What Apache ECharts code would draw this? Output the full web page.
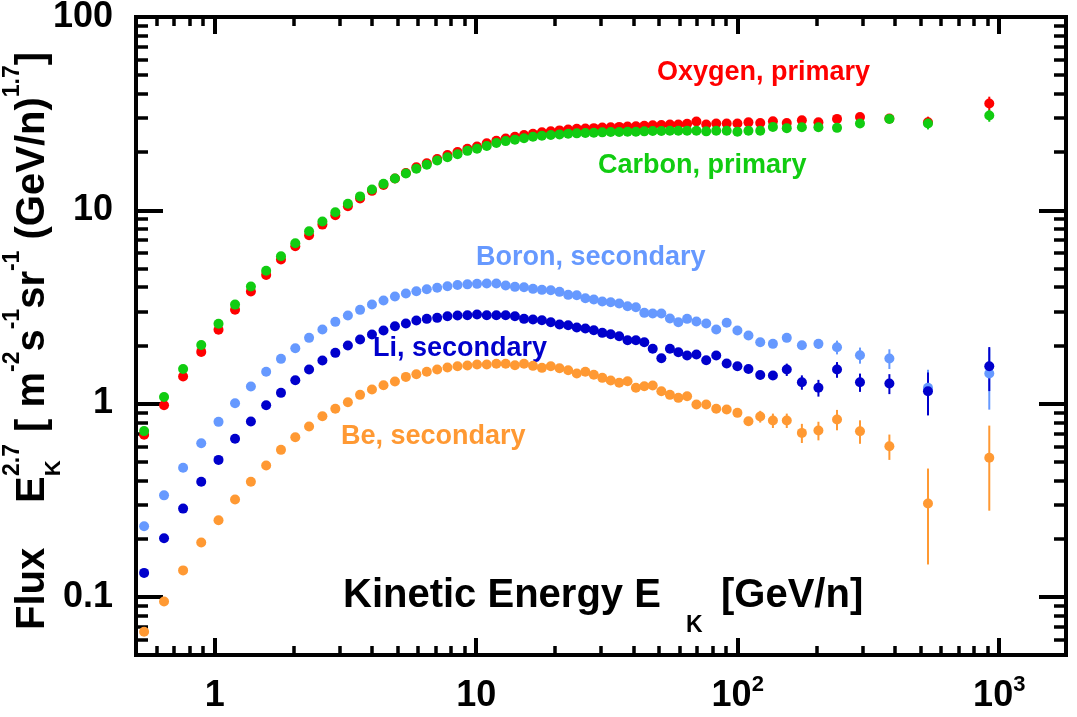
<!DOCTYPE html>
<html><head><meta charset="utf-8">
<script src="https://cdn.jsdelivr.net/npm/echarts@6/dist/echarts.min.js"></script>
<style>html,body{margin:0;padding:0;background:#fff}#c{width:1077px;height:717px}</style>
</head><body><div id="c"></div>
<script>
// Kinetic energy per nucleon (GeV/n), bin centres
const EK = [0.537,0.640,0.757,0.888,1.034,1.196,1.375,1.573,1.792,2.033,
  2.295,2.581,2.892,3.230,3.596,3.993,4.420,4.888,5.383,5.902,
  6.471,7.091,7.762,8.482,9.253,10.07,10.97,11.94,12.96,14.06,
  15.23,16.48,17.83,19.28,20.82,22.47,24.24,26.14,28.16,30.34,
  32.68,35.21,37.90,40.80,43.92,47.30,51.04,55.04,59.28,64.03,
  69.51,75.76,82.74,90.73,99.71,109.9,121.9,136.3,154.0,175.9,
  203.5,239.7,293.4,380.1,533.9,916];
const OXYGEN = [0.69,0.98,1.38,1.85,2.41,3.06,3.80,4.63,5.56,6.51,
  7.42,8.43,9.42,10.5,11.5,12.6,13.5,14.6,15.6,16.7,
  17.5,18.4,19.3,20.0,20.8,21.4,22.2,22.9,23.5,24.0,
  24.5,24.9,25.3,25.6,25.9,26.2,26.4,26.5,26.6,26.8,
  26.9,27.0,27.1,27.2,27.4,27.5,27.6,27.8,27.8,28.0,
  28.8,27.8,28.1,28.1,28.1,28.5,28.3,28.9,28.3,29.2,
  28.5,29.7,30.4,29.8,28.5,35.7];
const CARBON = [0.72,1.08,1.51,2.01,2.59,3.25,4.03,4.86,5.78,6.75,
  7.79,8.74,9.77,10.8,11.8,12.8,13.7,14.6,15.5,16.4,
  17.2,18.1,18.8,19.5,20.3,20.8,21.5,22.3,22.8,23.2,
  23.6,24.0,24.3,24.5,24.7,24.9,25.0,25.1,25.2,25.3,
  25.4,25.4,25.5,25.5,25.6,25.7,25.7,25.8,25.8,25.8,
  25.8,25.6,25.8,25.8,25.5,25.8,25.8,27.0,26.6,26.9,
  26.9,26.7,28.1,29.7,28.1,30.9];
const BORON = [0.232,0.335,0.465,0.623,0.804,1.004,1.224,1.459,1.703,1.932,
  2.187,2.414,2.646,2.853,3.053,3.252,3.411,3.577,3.708,3.811,
  3.903,3.969,4.045,4.102,4.137,4.161,4.176,4.176,4.078,4.015,
  3.996,3.921,3.874,3.856,3.784,3.651,3.634,3.506,3.451,3.370,
  3.342,3.291,3.187,3.149,2.946,2.922,2.922,2.753,2.634,2.743,
  2.656,2.594,2.414,2.616,2.386,2.248,2.076,2.036,2.187,2.002,
  2.036,1.956,1.778,1.709,1.206,1.430];
const LITHIUM = [0.133,0.201,0.286,0.394,0.511,0.657,0.807,0.980,1.136,1.320,
  1.499,1.669,1.829,1.995,2.144,2.275,2.386,2.511,2.594,2.688,
  2.743,2.776,2.829,2.853,2.863,2.887,2.863,2.863,2.863,2.829,
  2.743,2.720,2.697,2.634,2.563,2.542,2.473,2.443,2.394,2.321,
  2.283,2.229,2.126,2.126,2.076,1.919,1.716,1.919,1.842,1.771,
  1.793,1.675,1.771,1.610,1.560,1.508,1.404,1.396,1.499,1.289,
  1.206,1.499,1.289,1.269,1.158,1.560];
const BERYLLIUM = [0.0659,0.0946,0.137,0.191,0.249,0.319,0.394,0.478,0.576,0.669,
  0.760,0.860,0.939,1.016,1.109,1.181,1.243,1.300,1.374,1.418,
  1.459,1.499,1.536,1.560,1.573,1.592,1.592,1.605,1.605,1.578,
  1.605,1.567,1.530,1.560,1.522,1.487,1.430,1.459,1.408,1.358,
  1.315,1.280,1.304,1.206,1.229,1.239,1.158,1.109,1.070,1.091,
  0.988,0.988,0.939,0.931,0.895,0.810,0.857,0.817,0.817,0.705,
  0.725,0.827,0.719,0.601,0.304,0.524];
// error bars (absolute) for the last 12 bins
const ERR_FROM = 54;
const OXYGEN_ERR = [0.2,0.2,0.2,0.3,0.3,0.4,0.5,0.6,0.7,0.8,2.0,3.0];
const CARBON_ERR = [0.2,0.2,0.2,0.3,0.3,0.4,0.5,0.5,0.6,0.7,1.9,2.2];
const BORON_ERR = [0.04,0.05,0.07,0.07,0.10,0.10,0.12,0.16,0.17,0.20,0.29,0.50];
const LITHIUM_ERR = [0.04,0.05,0.07,0.07,0.11,0.11,0.12,0.14,0.14,0.15,0.29,0.40];
const BERYLLIUM_ERR = [0.03,0.04,0.06,0.07,0.07,0.08,0.08,0.10,0.10,0.09,0.157,0.245];

const X_MAJOR = [1,10,100,1000];
const Y_MAJOR = [0.1,1,10,100];
const X_MIN = 0.5, X_MAX = 1800, Y_MIN = 0.05, Y_MAX = 100;

function minorTicks(lo, hi){
  const out=[];
  for (let e=-2;e<=4;e++){ for(let k=2;k<=9;k++){ const v=+(k*Math.pow(10,e)).toPrecision(6); if(v>lo*1.0001 && v<hi*0.9999) out.push(v);} }
  return out;
}
const X_MINOR = minorTicks(X_MIN, X_MAX);
const Y_MINOR = minorTicks(Y_MIN, Y_MAX);

const FONT = '"Liberation Sans", Arial, Helvetica, sans-serif';
const COLORS = {O:'#ff0000', C:'#11cc11', B:'#6699ff', Li:'#0000cc', Be:'#ff9933'};

function xAxisDef(pos, major, showLabel){
  return {
    type:'log', logBase:10, min:X_MIN, max:X_MAX, position:pos, gridIndex:0,
    axisLine:{show:false}, splitLine:{show:false}, minorTick:{show:false},
    axisTick:{show:true, inside:true, customValues: major?X_MAJOR:X_MINOR, length: major?17:9,
      lineStyle:{color:'#000', width: major?4:3.5}},
    axisLabel: showLabel ? {show:true, customValues:X_MAJOR, margin:19,
      formatter: v => { const e=Math.round(Math.log10(v)); return e===0?'{a|1}':(e===1?'{a|10}':'{a|10}{s|'+e+'}'); },
      rich:{ a:{fontFamily:FONT,fontWeight:'bold',fontSize:36,lineHeight:44,color:'#000'},
             s:{fontFamily:FONT,fontWeight:'bold',fontSize:22,lineHeight:22,verticalAlign:'top',color:'#000'} } }
      : {show:false}
  };
}
function yAxisDef(pos, major, showLabel){
  return {
    type:'log', logBase:10, min:Y_MIN, max:Y_MAX, position:pos, gridIndex:0,
    axisLine:{show:false}, splitLine:{show:false}, minorTick:{show:false},
    axisTick:{show:true, inside:true, customValues: major?Y_MAJOR:Y_MINOR, length: major?27:12,
      lineStyle:{color:'#000', width: major?4:3.5}},
    axisLabel: showLabel ? {show:true, customValues:Y_MAJOR, margin:23, padding:[11,0,0,0],
      fontFamily:FONT, fontWeight:'bold', fontSize:36, color:'#000',
      formatter: v => v>=1 ? String(Math.round(v)) : String(+v.toPrecision(3)) } : {show:false}
  };
}

function pts(vals){ return EK.map((x,i)=>[x, vals[i]]); }
function errs(vals, err){ return err.map((e,j)=>[EK[ERR_FROM+j], vals[ERR_FROM+j], e]); }

function errSeries(vals, err, color){
  return { type:'custom', xAxisIndex:0, yAxisIndex:0, silent:true,
    dimensions:['x','y','e'], encode:{x:0,y:1},
    data: errs(vals, err),
    renderItem:(params, api)=>{
      const x=api.value(0), y=api.value(1), e=api.value(2);
      const p1=api.coord([x, Math.max(y-e, Y_MIN*0.5)]), p2=api.coord([x, y+e]);
      return {type:'line', shape:{x1:p1[0],y1:p1[1],x2:p2[0],y2:p2[1]}, style:{stroke:color, lineWidth:2}};
    } };
}
function ptSeries(name, vals, color){
  return { name, type:'scatter', xAxisIndex:0, yAxisIndex:0, symbol:'circle', symbolSize:10,
    itemStyle:{color, opacity:1}, emphasis:{disabled:true}, data: pts(vals) };
}

function label(text, x, y, color){
  return {type:'text', x, y, style:{text, fill:color, font:'bold 27px '+FONT, align:'left', verticalAlign:'middle', textAlign:'left', textVerticalAlign:'middle'}};
}

const mainRich = {fontFamily:FONT, fontWeight:'bold', fontSize:40, lineHeight:63, fill:'#000', color:'#000'};
const supRich = {fontFamily:FONT, fontWeight:'bold', fontSize:23, lineHeight:23, verticalAlign:'top', fill:'#000', color:'#000'};
const subRich = {fontFamily:FONT, fontWeight:'bold', fontSize:22, lineHeight:26, verticalAlign:'bottom', fill:'#000', color:'#000'};
const R = Math.PI/2;

const option = {
  animation:false,
  backgroundColor:'#fff',
  grid:{left:136, right:11, top:17, bottom:62, containLabel:false, outerBoundsMode:'none',
        show:true, borderColor:'#000', borderWidth:4, backgroundColor:'transparent'},
  xAxis:[ xAxisDef('bottom',true,true), xAxisDef('bottom',false,false), xAxisDef('top',true,false), xAxisDef('top',false,false) ],
  yAxis:[ yAxisDef('left',true,true), yAxisDef('left',false,false), yAxisDef('right',true,false), yAxisDef('right',false,false) ],
  series:[
    errSeries(OXYGEN, OXYGEN_ERR, COLORS.O), ptSeries('Oxygen', OXYGEN, COLORS.O),
    errSeries(CARBON, CARBON_ERR, COLORS.C), ptSeries('Carbon', CARBON, COLORS.C),
    errSeries(BORON, BORON_ERR, COLORS.B), ptSeries('Boron', BORON, COLORS.B),
    errSeries(LITHIUM, LITHIUM_ERR, COLORS.Li), ptSeries('Lithium', LITHIUM, COLORS.Li),
    errSeries(BERYLLIUM, BERYLLIUM_ERR, COLORS.Be), ptSeries('Beryllium', BERYLLIUM, COLORS.Be)
  ],
  graphic:{elements:[
    label('Oxygen, primary', 657, 73, COLORS.O),
    label('Carbon, primary', 598, 166, COLORS.C),
    label('Boron, secondary', 476, 258, COLORS.B),
    label('Li, secondary', 373, 349, COLORS.Li),
    label('Be, secondary', 341, 437, COLORS.Be),
    {type:'text', x:343, y:596, style:{text:'Kinetic Energy E', fill:'#000', font:'bold 40px '+FONT, align:'left', verticalAlign:'middle'}},
    {type:'text', x:686, y:626, style:{text:'K', fill:'#000', font:'bold 23px '+FONT, align:'left', verticalAlign:'middle'}},
    {type:'text', x:721, y:596, style:{text:'[GeV/n]', fill:'#000', font:'bold 40px '+FONT, align:'left', verticalAlign:'middle'}},
    {type:'text', x:33, y:630, rotation:R, style:{text:'Flux', fill:'#000', font:'bold 40px '+FONT, align:'left', verticalAlign:'middle'}},
    {type:'text', x:33, y:503, rotation:R, style:{text:'{m|E}{k|K}', fill:'#000', align:'left', verticalAlign:'middle', rich:{m:mainRich, k:subRich}}},
    {type:'text', x:13, y:476, rotation:R, style:{text:'2.7', fill:'#000', font:'bold 23px '+FONT, align:'left', verticalAlign:'middle'}},
    {type:'text', x:33, y:432, rotation:R, style:{text:'{m|[ m}{s|-2}{m|s}{s|-1}{m|sr}{s|-1}{m| (GeV/n)}{s|1.7}{m|]}', fill:'#000', align:'left', verticalAlign:'middle', rich:{m:mainRich, s:supRich}}}
  ]}
};
const chart = echarts.init(document.getElementById('c'), null, {renderer:'canvas'});
chart.setOption(option);
</script></body></html>
